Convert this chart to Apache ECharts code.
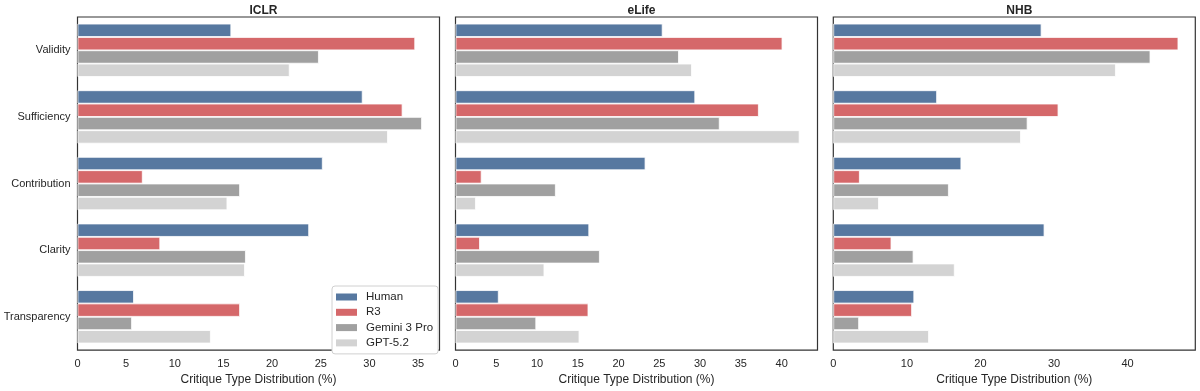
<!DOCTYPE html>
<html>
<head>
<meta charset="utf-8">
<script src="https://cdn.jsdelivr.net/npm/echarts@6/dist/echarts.min.js"></script>
<style>
html,body{margin:0;padding:0;background:#fff;}
#chart{width:1200px;height:391px;}
</style>
</head>
<body>
<div id="chart"></div>
<script>
const categories = ['Validity', 'Sufficiency', 'Contribution', 'Clarity', 'Transparency'];
const seriesNames = ['Human', 'R3', 'Gemini 3 Pro', 'GPT-5.2'];
const panelTitles = ['ICLR', 'eLife', 'NHB'];

// ICLR
const iclrHuman  = [15.8, 29.3, 25.2, 23.8, 5.8];
const iclrR3     = [34.7, 33.4, 6.7, 8.5, 16.7];
const iclrGemini = [24.8, 35.4, 16.7, 17.3, 5.6];
const iclrGPT    = [21.8, 31.9, 15.4, 17.2, 13.7];
// eLife
const elifeHuman  = [25.4, 29.4, 23.3, 16.4, 5.3];
const elifeR3     = [40.1, 37.2, 3.2, 3.0, 16.3];
const elifeGemini = [27.4, 32.4, 12.3, 17.7, 9.9];
const elifeGPT    = [29.0, 42.2, 2.5, 10.9, 15.2];
// NHB
const nhbHuman  = [28.3, 14.1, 17.4, 28.7, 11.0];
const nhbR3     = [46.9, 30.6, 3.6, 7.9, 10.7];
const nhbGemini = [43.1, 26.4, 15.7, 10.9, 3.5];
const nhbGPT    = [38.4, 25.5, 6.2, 16.5, 13.0];

const xMax = [37.2, 44.4, 49.2];
const xInterval = [5, 5, 10];

const panelData = [
  [iclrHuman, iclrR3, iclrGemini, iclrGPT],
  [elifeHuman, elifeR3, elifeGemini, elifeGPT],
  [nhbHuman, nhbR3, nhbGemini, nhbGPT]
];
const colors = ['#5778a0', '#d5686a', '#a0a0a0', '#d3d3d3'];
const FONT = 'Liberation Sans, Arial, sans-serif';

const gridLefts = [77.5, 455.5, 833.3];
const gridWidth = 362;

const grids = gridLefts.map(l => ({
  left: l, top: 17, width: gridWidth, height: 338,
  show: true, borderColor: '#333', borderWidth: 1.2, backgroundColor: 'transparent'
}));

const xAxes = panelTitles.map((t, i) => ({
  type: 'value', gridIndex: i, min: 0, max: xMax[i], interval: xInterval[i],
  splitLine: {show: false}, axisTick: {show: false},
  axisLine: {show: false},
  axisLabel: {showMaxLabel: false, color: '#262626', fontSize: 11, fontFamily: FONT, margin: 8},
  name: 'Critique Type Distribution (%)', nameLocation: 'middle', nameGap: 20,
  nameTextStyle: {color: '#262626', fontSize: 12, fontFamily: FONT}
}));

const yAxes = panelTitles.map((t, i) => ({
  type: 'category', gridIndex: i, data: categories, inverse: true,
  axisTick: {show: false}, axisLine: {show: false}, splitLine: {show: false},
  axisLabel: {show: i === 0, color: '#262626', fontSize: 11, fontFamily: FONT, margin: 7}
}));

const series = [];
panelData.forEach((arrs, pi) => {
  arrs.forEach((vals, si) => {
    series.push({
      name: seriesNames[si], type: 'bar', xAxisIndex: pi, yAxisIndex: pi,
      data: vals, barCategoryGap: '20%', barGap: '0%',
      itemStyle: {color: colors[si], borderColor: '#ffffff', borderWidth: 0.8},
      emphasis: {disabled: true}, animation: false
    });
  });
});

const titles = panelTitles.map((t, i) => ({
  text: t, left: gridLefts[i] + gridWidth / 2, top: 0, textAlign: 'center',
  textStyle: {fontSize: 12, fontWeight: 'bold', color: '#262626', fontFamily: FONT}
}));

const option = {
  animation: false,
  backgroundColor: '#fff',
  color: colors,
  title: titles,
  grid: grids,
  xAxis: xAxes,
  yAxis: yAxes,
  legend: {
    data: seriesNames, orient: 'vertical', left: 332, top: 286,
    itemWidth: 21, itemHeight: 7, itemGap: 3.3,
    padding: [5, 5, 5, 4],
    backgroundColor: '#fff', borderColor: '#d0d0d0', borderWidth: 1, borderRadius: 3,
    textStyle: {color: '#262626', fontSize: 11.5, fontFamily: FONT, padding: [0, 0, 0, 4]},
    itemStyle: {borderWidth: 0},
    icon: 'rect'
  },
  series: series
};

const chart = echarts.init(document.getElementById('chart'), null, {renderer: 'canvas'});
chart.setOption(option);
</script>
</body>
</html>
